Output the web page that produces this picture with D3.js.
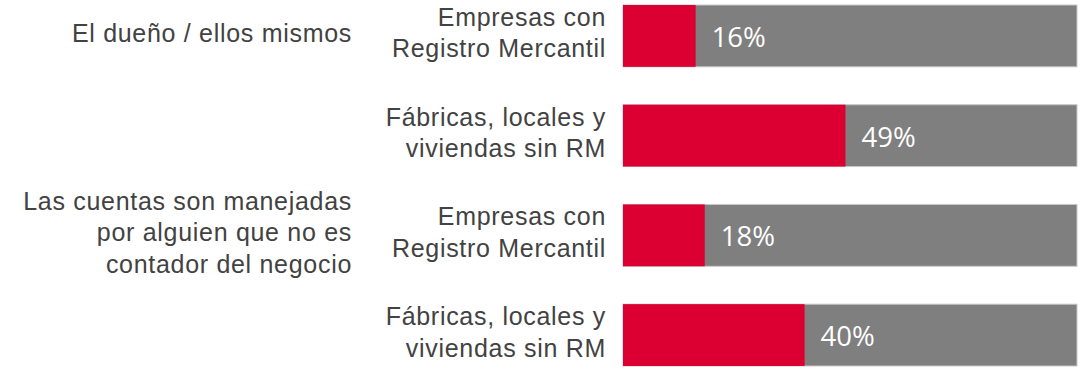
<!DOCTYPE html>
<html>
<head>
<meta charset="utf-8">
<script src="https://cdn.jsdelivr.net/npm/d3@7"></script>
<style>
  html, body { margin: 0; padding: 0; background: #ffffff; }
  svg { display: block; }
</style>
</head>
<body>
<svg id="chart" width="1086" height="374"></svg>
<script>
// Who keeps the books, split by type of business
const groupLabels = [
  ["El dueño / ellos mismos"],
  ["Las cuentas son manejadas", "por alguien que no es", "contador del negocio"]
];
const groupStartRow = [0, 2];
const rowLabels = [
  ["Empresas con", "Registro Mercantil"],
  ["Fábricas, locales y", "viviendas sin RM"],
  ["Empresas con", "Registro Mercantil"],
  ["Fábricas, locales y", "viviendas sin RM"]
];
const shares = [16, 49, 18, 40];
const total = 100;

const svg = d3.select("#chart");

const x = d3.scaleLinear().domain([0, total]).range([623, 1077]);
const y = d3.scaleBand()
  .domain(d3.range(shares.length))
  .range([5, 366])
  .paddingInner(0.38)
  .paddingOuter(0);

const labelFont = "'Liberation Sans', Arial, sans-serif";
const labelColor = "#424242";
const lineStep = 31.6;
const fontSize = 25;

// Background bar (full 100%)
svg.append("g").selectAll("rect")
  .data(shares)
  .join("rect")
  .attr("x", x(0))
  .attr("y", (d, i) => y(i))
  .attr("width", x(total) - x(0))
  .attr("height", y.bandwidth())
  .attr("fill", "#7f7f7f")
  .attr("stroke", "#c9c9c9")
  .attr("stroke-width", 1);

// Share bar
svg.append("g").selectAll("rect")
  .data(shares)
  .join("rect")
  .attr("x", x(0))
  .attr("y", (d, i) => y(i))
  .attr("width", d => x(d) - x(0))
  .attr("height", y.bandwidth())
  .attr("fill", "#dc0032");

// Percentage labels just right of the red segment
svg.append("g").selectAll("text")
  .data(shares)
  .join("text")
  .attr("x", d => x(d) + 16)
  .attr("y", (d, i) => y(i) + y.bandwidth() / 2 + 11)
  .attr("fill", "#ffffff")
  .attr("font-family", "'Open Sans', sans-serif")
  .attr("font-size", 27.5)
  .text(d => d + "%");

// Multi-line right-aligned text block centred at cy
function block(g, lines, rightX, cy) {
  const n = lines.length;
  const capH = fontSize * 0.7;
  const firstBaseline = cy - ((n - 1) * lineStep) / 2 + capH / 2;
  g.append("text")
    .attr("text-anchor", "end")
    .attr("font-family", labelFont)
    .attr("font-size", fontSize)
    .attr("letter-spacing", 0.7)
    .attr("fill", labelColor)
    .selectAll("tspan")
    .data(lines)
    .join("tspan")
    .attr("x", rightX)
    .attr("y", (d, k) => firstBaseline + k * lineStep)
    .text(d => d);
}

const rowG = svg.append("g");
rowLabels.forEach((lines, i) => {
  block(rowG, lines, 606, y(i) + y.bandwidth() / 2 - 3);
});

const groupG = svg.append("g");
groupLabels.forEach((lines, j) => {
  const r = groupStartRow[j];
  block(groupG, lines, 352, y(r) + y.bandwidth() / 2 - 3);
});
</script>
</body>
</html>
